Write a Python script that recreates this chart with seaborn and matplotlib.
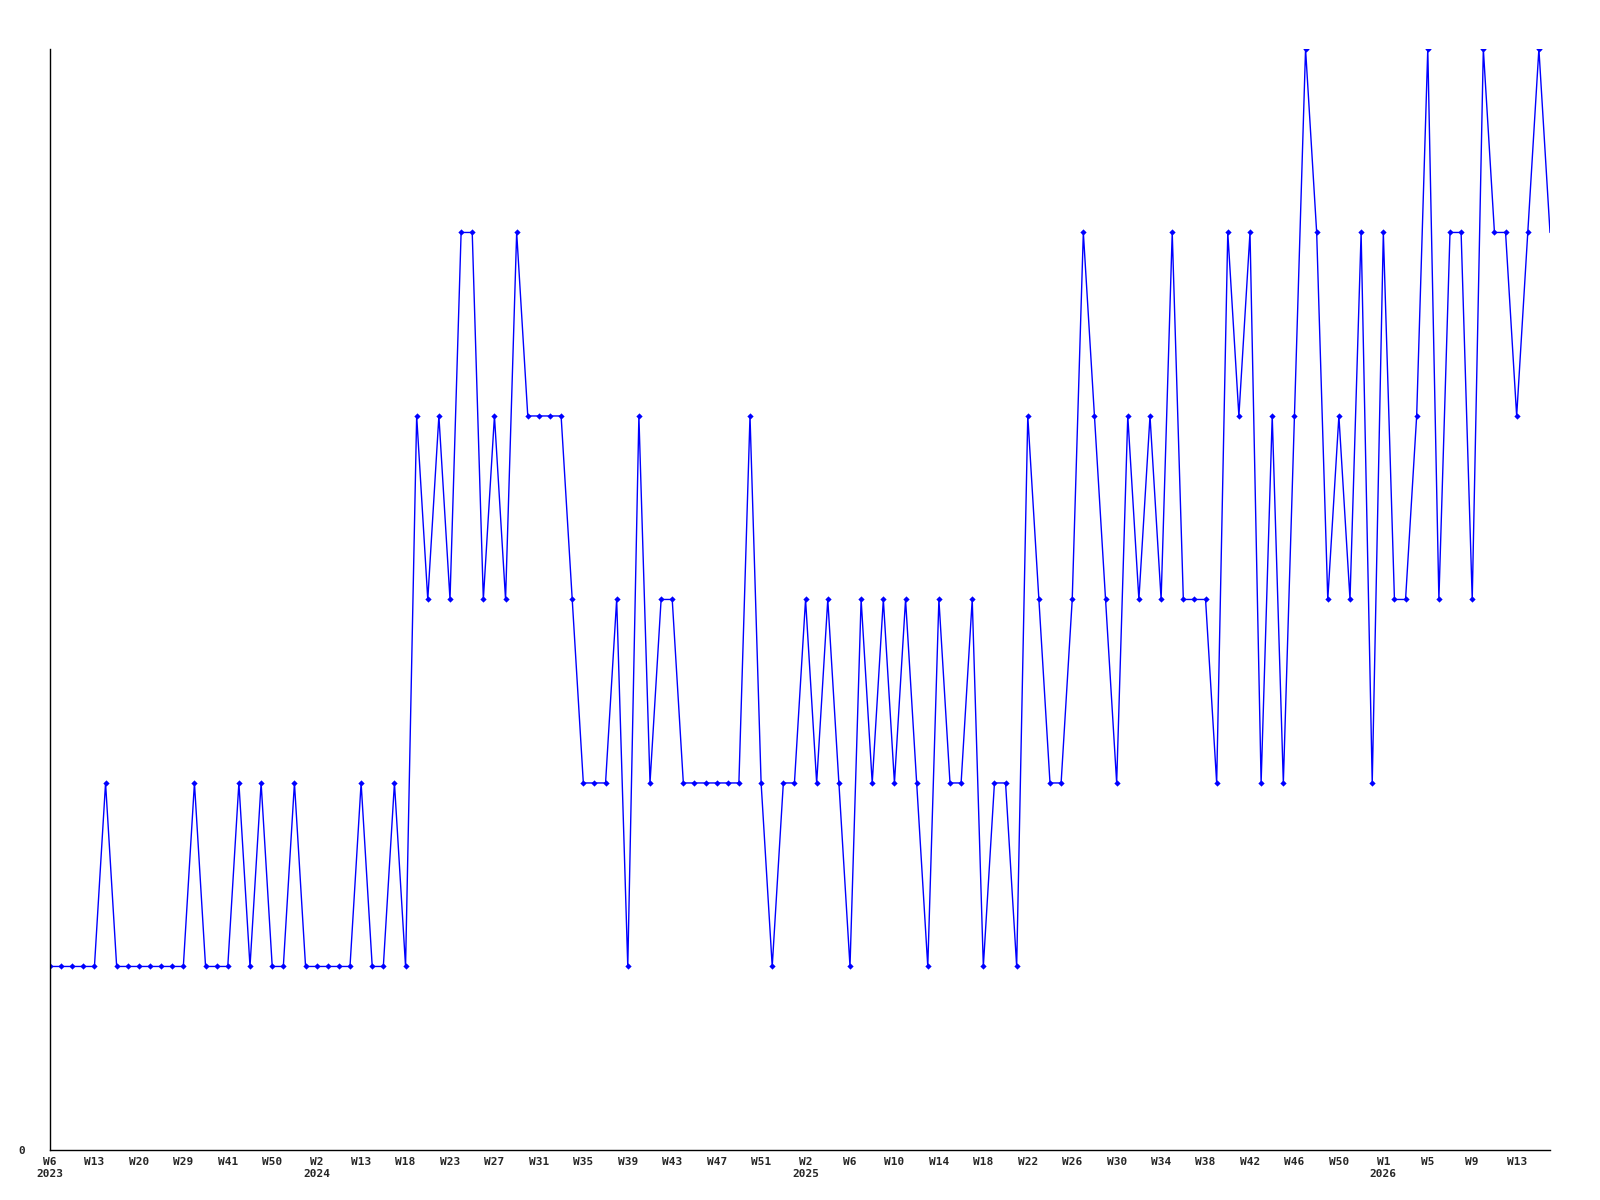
import matplotlib
matplotlib.use("Agg")
import matplotlib.pyplot as plt
import pandas as pd
import seaborn as sns

# Weekly values, one per week point (last point is the current, partial week)
values = [1, 1, 1, 1, 1, 2, 1, 1, 1, 1, 1, 1, 1, 2, 1, 1, 1, 2, 1, 2,
          1, 1, 2, 1, 1, 1, 1, 1, 2, 1, 1, 2, 1, 4, 3, 4, 3, 5, 5, 3,
          4, 3, 5, 4, 4, 4, 4, 3, 2, 2, 2, 3, 1, 4, 2, 3, 3, 2, 2, 2,
          2, 2, 2, 4, 2, 1, 2, 2, 3, 2, 3, 2, 1, 3, 2, 3, 2, 3, 2, 1,
          3, 2, 2, 3, 1, 2, 2, 1, 4, 3, 2, 2, 3, 5, 4, 3, 2, 4, 3, 4,
          3, 5, 3, 3, 3, 2, 5, 4, 5, 2, 4, 2, 4, 6, 5, 3, 4, 3, 5, 2,
          5, 3, 3, 4, 6, 3, 5, 5, 3, 6, 5, 5, 4, 5, 6, 5]

# Axis labels, one every 4 points
tick_labels = ["W6\n2023", "W13", "W20", "W29", "W41", "W50",
               "W2\n2024", "W13", "W18", "W23", "W27", "W31", "W35", "W39",
               "W43", "W47", "W51",
               "W2\n2025", "W6", "W10", "W14", "W18", "W22", "W26", "W30",
               "W34", "W38", "W42", "W46", "W50",
               "W1\n2026", "W5", "W9", "W13"]
tick_step = 4

df = pd.DataFrame({"week": range(len(values)), "value": values})

sns.set_style("white")
plt.rcParams["font.family"] = ["DejaVu Sans Mono", "DejaVu Sans"]

fig = plt.figure(figsize=(16, 12), dpi=100)
ax = fig.add_axes([0.03125, 0.0417, 0.9375, 0.9175])

sns.lineplot(data=df, x="week", y="value", ax=ax, color="#0000ff",
             linewidth=1.0, marker="D", markersize=3.2,
             markeredgewidth=0, markevery=list(range(len(values) - 1)))

ax.set_xlim(0, len(values) - 1)
ax.set_ylim(0, 6)

ax.set_xticks(range(0, tick_step * len(tick_labels), tick_step))
ax.set_xticklabels(tick_labels, fontsize=8, fontweight="bold", linespacing=1.3)
ax.set_yticks([0])
ax.set_yticklabels(["0"], fontsize=8, fontweight="bold")
ax.tick_params(axis="x", length=0, pad=5)
ax.tick_params(axis="y", length=0, pad=18)

ax.set_xlabel("")
ax.set_ylabel("")
for side in ["top", "right"]:
    ax.spines[side].set_visible(False)
for side in ["left", "bottom"]:
    ax.spines[side].set_color("black")
    ax.spines[side].set_linewidth(1.0)

fig.savefig("out.png", dpi=100, facecolor="white")
